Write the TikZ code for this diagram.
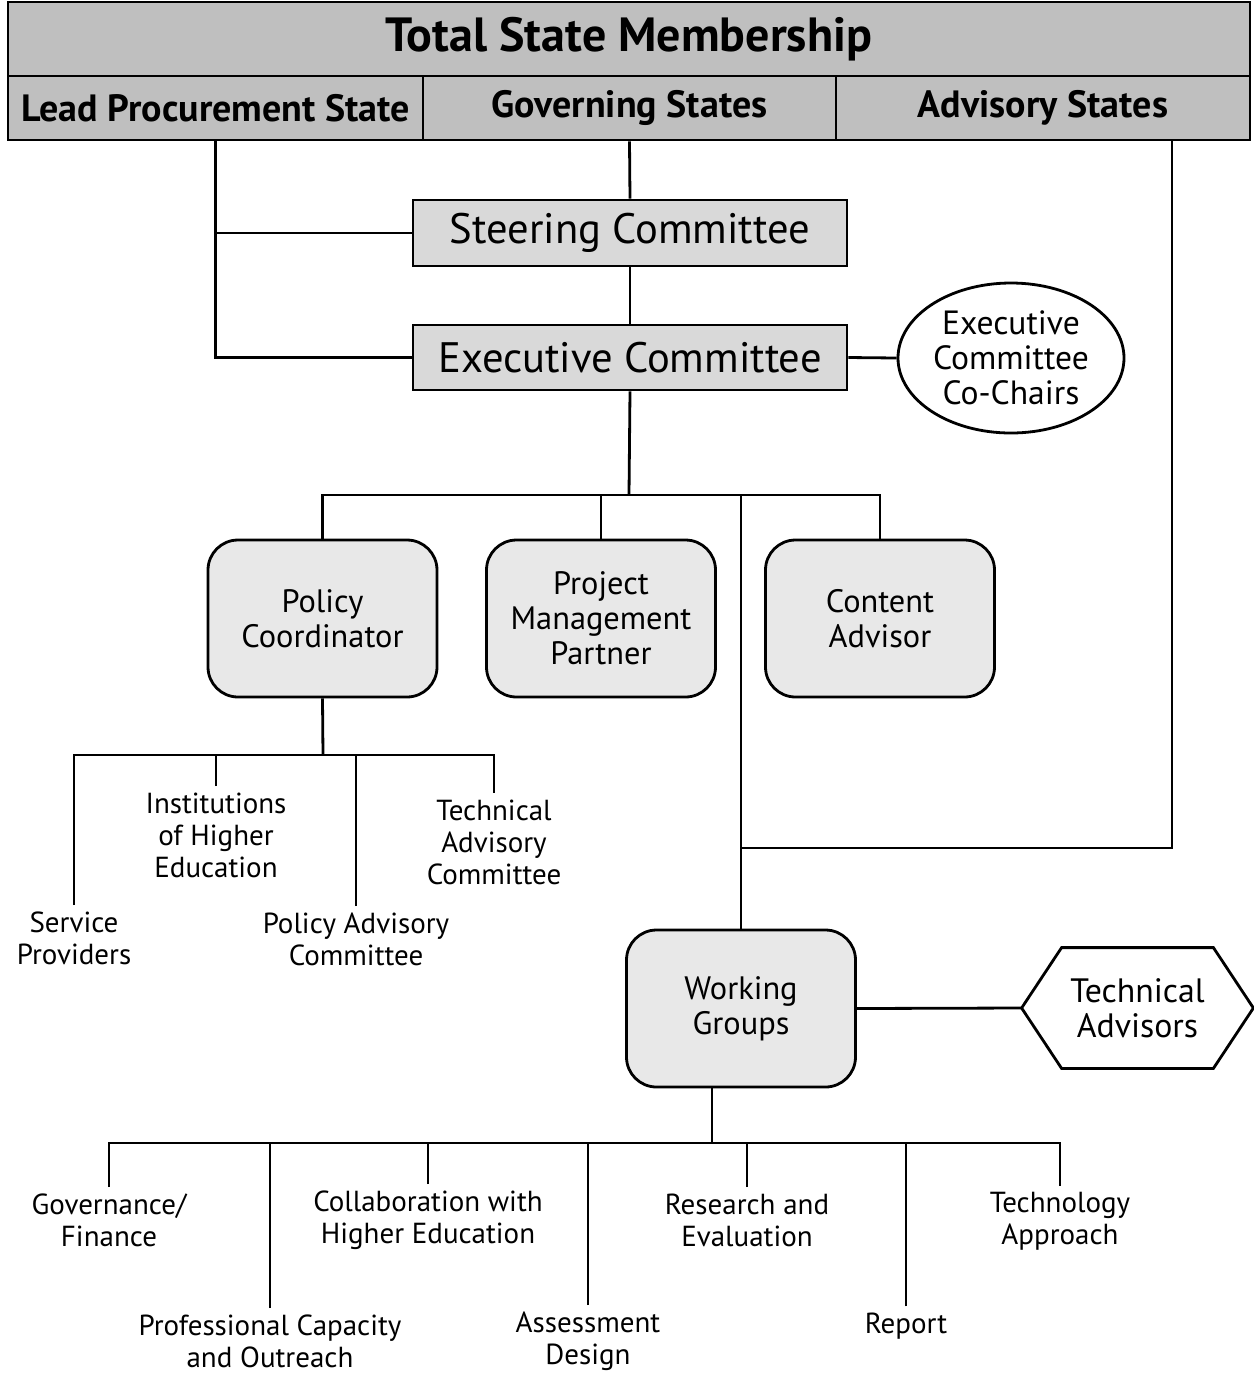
\documentclass[tikz,border=0pt]{standalone}
\usepackage{fontspec}
\setmainfont{PT Sans}
\usetikzlibrary{calc,shapes.geometric}
\begin{document}
\begin{tikzpicture}[x=0.5pt,y=-0.5pt,
  conn/.style={line width=1.4pt},
  topcell/.style={draw,line width=1.4pt,fill=gray!50,font=\bfseries\fontsize{19}{22}\selectfont,inner sep=0pt},
  sqbox/.style={draw,line width=1.4pt,fill=gray!30,font=\fontsize{21.3}{24}\selectfont,minimum width=217pt,minimum height=33pt,inner sep=0pt},
  rbox/.style={draw,line width=1.4pt,fill=gray!18,rounded corners=15pt,align=center,font=\fontsize{16.2}{17.5}\selectfont,minimum width=114.5pt,minimum height=78.5pt,inner sep=0pt},
  lbl/.style={align=center,font=\fontsize{14.5}{16}\selectfont,inner sep=3pt}]
\useasboundingbox (0,0) rectangle (1254,1373);
% top bar
\node[topcell,minimum width=621pt,minimum height=37pt,font=\bfseries\fontsize{24}{26}\selectfont] (tsm) at (629,39) {Total State Membership};
\node[topcell,minimum width=207.5pt,minimum height=32pt] (lps) at (215.5,108) {Lead Procurement State};
\node[topcell,minimum width=206.5pt,minimum height=32pt] (gs) at (629.5,108) {Governing States};
\node[topcell,minimum width=207pt,minimum height=32pt] (as) at (1043,108) {Advisory States};
% committees
\node[sqbox] (sc) at (630,233) {Steering Committee};
\node[sqbox,minimum height=32.5pt] (ec) at (630,357.5) {Executive Committee};
\node[draw,ellipse,line width=1.4pt,fill=white,minimum width=113pt,minimum height=75pt,inner sep=0pt,align=center,font=\fontsize{16.8}{17.5}\selectfont] (ecc) at (1011,358) {Executive\\Committee\\Co-Chairs};
% rounded boxes
\node[rbox] (pc) at (322.5,618.5) {Policy\\Coordinator};
\node[rbox] (pmp) at (601,618.5) {Project\\Management\\Partner};
\node[rbox] (ca) at (880,618.5) {Content\\Advisor};
\node[rbox] (wg) at (741,1008.5) {Working\\Groups};
% technical advisors hexagon
\node[minimum width=75.5pt,minimum height=60pt,inner sep=0pt,align=center,font=\fontsize{16.9}{17.5}\selectfont] (ta) at (1137.5,1008) {Technical\\Advisors};
\coordinate (taw) at ($(ta.west)+(-40,0)$);
\coordinate (tae) at ($(ta.east)+(40,0)$);
\draw[line width=1.4pt] (ta.north west) -- (ta.north east) -- (tae) -- (ta.south east) -- (ta.south west) -- (taw) -- cycle;
% policy labels
\node[lbl] (sp) at (74,938) {Service\\Providers};
\node[lbl] (ihe) at (216,835) {Institutions\\of Higher\\Education};
\node[lbl] (pac) at (356,939) {Policy Advisory\\Committee};
\node[lbl] (tac) at (494,842) {Technical\\Advisory\\Committee};
% working group labels
\node[lbl] (gf) at (109,1220) {Governance/\\Finance};
\node[lbl] (pco) at (270,1341) {Professional Capacity\\and Outreach};
\node[lbl] (che) at (428,1220) {Collaboration with\\Higher Education};
\node[lbl] (ad) at (588,1341) {Assessment\\Design};
\node[lbl] (re) at (747,1220) {Research and\\Evaluation};
\node[lbl] (rep) at (906,1326) {Report};
\node[lbl] (tap) at (1060,1221) {Technology\\Approach};
% junctions
\coordinate (asfoot) at (1172,140);
\coordinate (b1) at (629,495);
\coordinate (b2) at (323,755);
\coordinate (b3) at (712,1143);
\coordinate (akink) at (740,848);
% connectors
\draw[conn] (lps.south) |- (ec.west);
\draw[conn] (lps.south |- sc.west) -- (sc.west);
\draw[conn] (gs.south) -- (sc.north);
\draw[conn] (sc.south) -- (ec.north);
\draw[conn] (ec.east) -- (ecc.west);
\draw[conn] (ec.south) -- (b1);
\draw[conn] (pc.north) -- (pc.north |- b1) -- (ca.north |- b1) -- (ca.north);
\draw[conn] (pmp.north) -- (pmp.north |- b1);
\draw[conn] (wg.north) -- (wg.north |- b1);
\draw[conn] (asfoot) |- (akink);
\draw[conn] (pc.south) -- (b2);
\draw[conn] (sp.north) -- (sp.north |- b2) -- (tac.north |- b2) -- (tac.north);
\draw[conn] (ihe.north) -- (ihe.north |- b2);
\draw[conn] (pac.north) -- (pac.north |- b2);
\draw[conn] (wg.east) -- (taw);
\draw[conn] ([xshift=-14.5pt]wg.south) -- (b3);
\draw[conn] (gf.north) -- (gf.north |- b3) -- (tap.north |- b3) -- (tap.north);
\draw[conn] (pco.north) -- (pco.north |- b3);
\draw[conn] (che.north) -- (che.north |- b3);
\draw[conn] (ad.north) -- (ad.north |- b3);
\draw[conn] (re.north) -- (re.north |- b3);
\draw[conn] (rep.north) -- (rep.north |- b3);
\end{tikzpicture}
\end{document}
